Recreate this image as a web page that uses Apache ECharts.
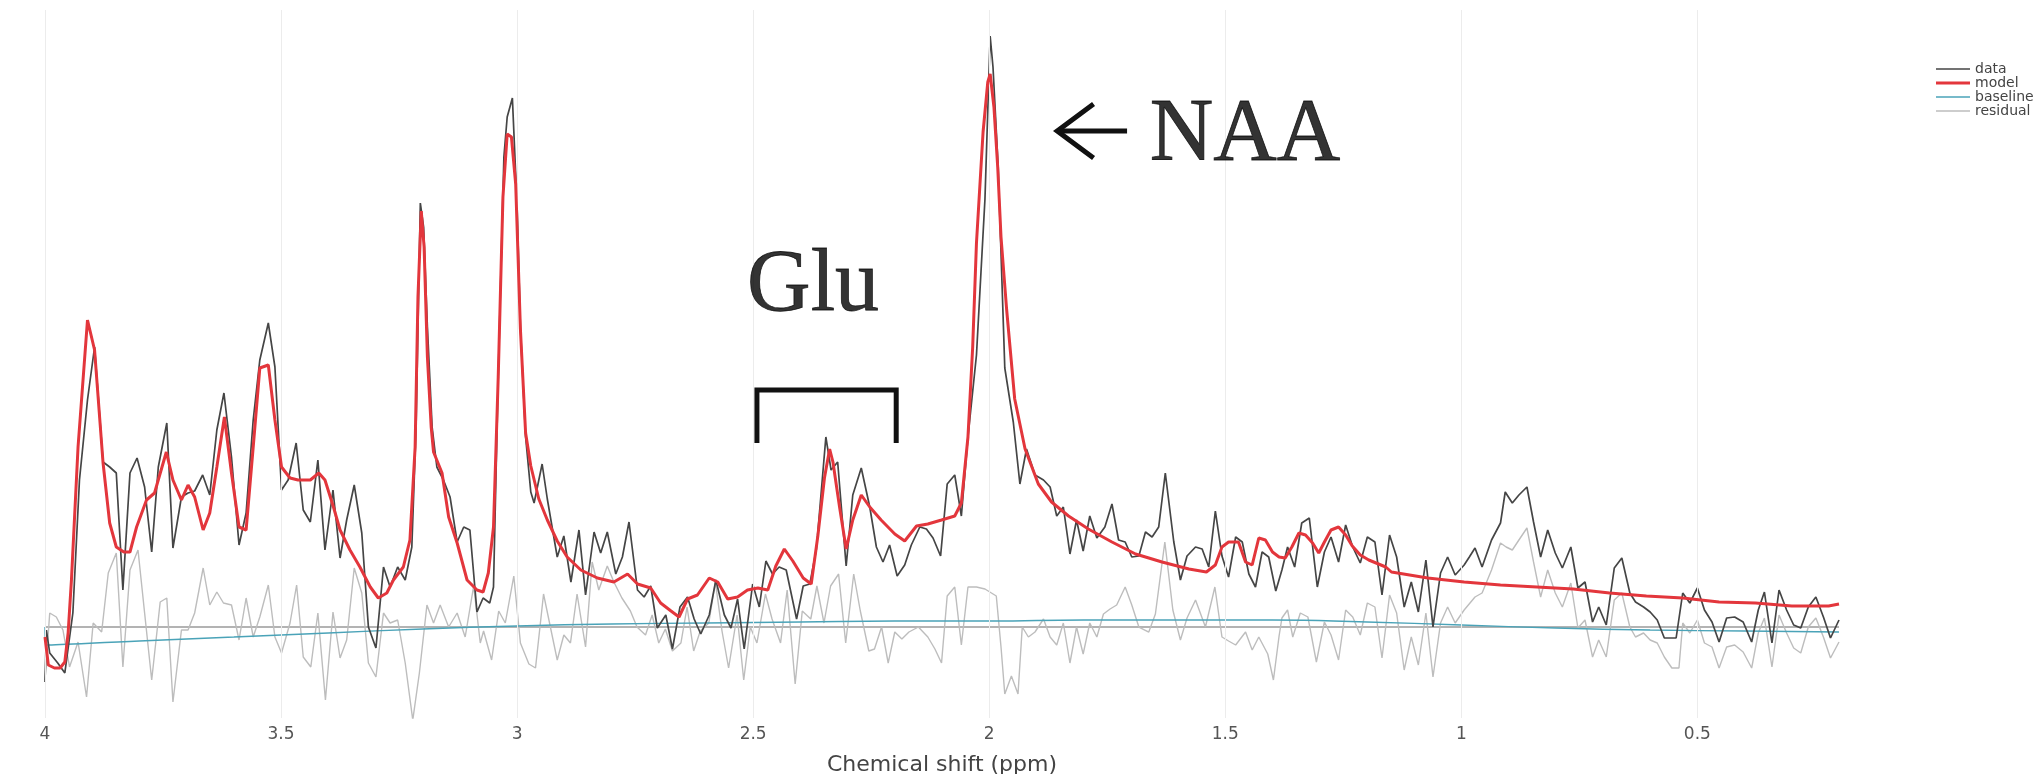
<!DOCTYPE html>
<html>
<head>
<meta charset="utf-8">
<title>MRS fit</title>
<script src="https://cdn.jsdelivr.net/npm/echarts@6.0.0/dist/echarts.min.js"></script>
<style>
  html, body { margin: 0; padding: 0; background: #fff; }
  #chart { width: 2033px; height: 774px; }
</style>
</head>
<body>
<div id="chart"></div>
<script>
// values: [ppm, intensity]
var xTicks = [4, 3.5, 3, 2.5, 2, 1.5, 1, 0.5];

var spectrumData = [
  [4.000,-55],[3.997,-3],[3.990,-26],[3.973,-36],[3.958,-46],[3.941,14],[3.927,147],[3.910,227],[3.895,280],[3.877,165],
  [3.863,160],[3.849,154],[3.835,37],[3.820,154],[3.805,169],[3.789,140],[3.774,75],[3.760,160],[3.742,204],[3.729,79],
  [3.711,130],[3.697,134],[3.683,136],[3.666,152],[3.651,132],[3.636,197],[3.621,234],[3.605,170],[3.589,82],[3.574,114],
  [3.559,207],[3.545,267],[3.527,304],[3.513,260],[3.499,137],[3.485,147],[3.468,184],[3.453,117],[3.438,105],[3.422,167],
  [3.407,77],[3.390,137],[3.375,69],[3.361,107],[3.345,142],[3.329,94],[3.315,0],[3.299,-21],[3.283,60],[3.269,40],
  [3.253,60],[3.237,47],[3.223,80],[3.214,200],[3.205,424],[3.198,400],[3.190,300],[3.180,200],[3.170,160],[3.156,147],
  [3.142,130],[3.127,85],[3.113,100],[3.100,97],[3.085,15],[3.072,29],[3.058,24],[3.050,40],[3.040,250],[3.028,470],
  [3.021,510],[3.010,529],[3.000,420],[2.993,300],[2.982,190],[2.971,135],[2.964,124],[2.947,163],[2.936,128],[2.915,70],
  [2.901,91],[2.886,45],[2.869,97],[2.855,32],[2.837,95],[2.823,74],[2.809,95],[2.791,53],[2.777,70],[2.763,105],
  [2.745,37],[2.731,30],[2.717,41],[2.703,-1],[2.685,12],[2.671,-22],[2.655,20],[2.639,30],[2.625,8],[2.611,-7],
  [2.593,12],[2.579,47],[2.561,12],[2.547,-1],[2.533,28],[2.519,-22],[2.501,43],[2.487,20],[2.473,66],[2.459,53],
  [2.445,60],[2.430,57],[2.408,8],[2.394,41],[2.380,43],[2.366,78],[2.346,190],[2.335,157],[2.321,165],[2.303,61],
  [2.289,132],[2.271,159],[2.253,120],[2.239,80],[2.225,65],[2.211,82],[2.195,51],[2.179,62],[2.165,82],[2.147,100],
  [2.133,98],[2.119,89],[2.103,71],[2.089,143],[2.073,152],[2.059,111],[2.045,190],[2.027,272],[2.009,428],[1.998,591],
  [1.992,560],[1.981,460],[1.967,259],[1.949,205],[1.935,143],[1.921,178],[1.903,152],[1.885,147],[1.871,140],[1.857,111],
  [1.843,120],[1.829,73],[1.815,107],[1.801,76],[1.787,111],[1.772,89],[1.755,100],[1.740,123],[1.726,87],[1.712,85],
  [1.698,70],[1.683,71],[1.669,95],[1.655,90],[1.641,100],[1.627,154],[1.609,85],[1.595,47],[1.581,71],[1.563,80],
  [1.549,78],[1.535,60],[1.521,116],[1.507,71],[1.493,50],[1.478,90],[1.464,85],[1.450,53],[1.436,40],[1.422,75],
  [1.408,70],[1.393,36],[1.380,57],[1.368,80],[1.353,60],[1.338,104],[1.322,109],[1.305,40],[1.290,75],[1.276,90],
  [1.260,65],[1.245,102],[1.230,80],[1.214,64],[1.199,90],[1.183,85],[1.168,32],[1.152,92],[1.137,70],[1.121,20],
  [1.106,45],[1.091,15],[1.075,67],[1.060,0],[1.044,54],[1.029,70],[1.013,52],[0.994,62],[0.983,70],[0.971,79],
  [0.956,60],[0.936,87],[0.917,104],[0.907,135],[0.892,124],[0.878,132],[0.861,140],[0.847,105],[0.832,70],[0.817,97],
  [0.801,74],[0.786,59],[0.768,80],[0.753,39],[0.738,45],[0.722,5],[0.709,20],[0.693,2],[0.676,59],[0.660,69],
  [0.643,34],[0.631,25],[0.614,20],[0.600,15],[0.585,7],[0.570,-11],[0.545,-11],[0.531,34],[0.516,24],[0.500,39],
  [0.485,17],[0.469,5],[0.454,-15],[0.438,9],[0.421,10],[0.403,5],[0.385,-15],[0.371,17],[0.358,35],[0.342,-16],
  [0.327,37],[0.311,17],[0.296,2],[0.281,-1],[0.265,20],[0.249,30],[0.233,10],[0.218,-11],[0.200,7]
];

var modelFit = [
  [4.000,-10],[3.993,-38],[3.980,-41],[3.968,-41],[3.958,-35],[3.951,-6],[3.944,47],[3.930,180],[3.910,307],[3.895,277],
  [3.877,164],[3.863,104],[3.849,80],[3.833,75],[3.820,75],[3.806,100],[3.785,127],[3.768,134],[3.743,175],[3.729,147],
  [3.711,127],[3.697,142],[3.683,130],[3.665,97],[3.651,114],[3.636,160],[3.620,210],[3.605,154],[3.589,100],[3.574,97],
  [3.559,180],[3.545,259],[3.527,262],[3.513,207],[3.499,160],[3.481,149],[3.464,147],[3.438,147],[3.420,154],[3.407,147],
  [3.389,120],[3.375,97],[3.354,77],[3.333,60],[3.311,40],[3.294,29],[3.276,34],[3.262,47],[3.241,60],[3.227,87],
  [3.216,180],[3.210,330],[3.203,416],[3.197,380],[3.190,270],[3.182,200],[3.177,175],[3.159,154],[3.145,110],[3.127,84],
  [3.106,47],[3.085,37],[3.072,35],[3.061,54],[3.050,100],[3.040,250],[3.030,430],[3.021,493],[3.012,490],[3.003,443],
  [2.993,298],[2.982,194],[2.971,161],[2.954,128],[2.936,107],[2.915,86],[2.894,70],[2.865,57],[2.830,49],[2.795,45],
  [2.766,53],[2.745,43],[2.717,39],[2.696,24],[2.674,16],[2.657,10],[2.639,28],[2.618,32],[2.593,49],[2.575,45],
  [2.554,28],[2.533,30],[2.512,37],[2.490,39],[2.469,37],[2.452,61],[2.434,78],[2.416,66],[2.394,49],[2.377,43],
  [2.363,91],[2.349,149],[2.338,178],[2.331,165],[2.317,120],[2.303,78],[2.289,107],[2.271,132],[2.253,120],[2.229,107],
  [2.200,93],[2.179,86],[2.154,101],[2.130,103],[2.101,107],[2.073,111],[2.059,124],[2.045,190],[2.035,280],[2.027,384],
  [2.013,495],[2.003,545],[1.998,553],[1.990,520],[1.982,460],[1.975,390],[1.963,317],[1.946,228],[1.924,178],[1.896,143],
  [1.868,125],[1.832,111],[1.790,98],[1.740,85],[1.690,73],[1.634,65],[1.577,58],[1.540,55],[1.521,62],[1.507,80],
  [1.493,85],[1.472,85],[1.457,65],[1.443,62],[1.429,89],[1.415,87],[1.400,75],[1.386,70],[1.373,69],[1.359,80],
  [1.344,94],[1.330,92],[1.315,84],[1.302,74],[1.290,85],[1.276,97],[1.260,100],[1.245,92],[1.231,81],[1.214,72],
  [1.196,67],[1.160,60],[1.148,55],[1.071,49],[0.994,45],[0.917,42],[0.840,40],[0.763,38],[0.686,34],[0.608,31],
  [0.531,29],[0.454,25],[0.377,24],[0.300,21],[0.222,21],[0.200,23]
];

var baselineFit = [
  [4.000,0],[3.996,-18],[3.8,-14],[3.6,-10],[3.4,-6],[3.2,-2],[3.0,1],[2.8,3],[2.6,4],[2.4,5],[2.2,6],
  [2.0,6],[1.8,7],[1.6,7],[1.4,7],[1.2,5],[1.0,2],[0.8,-1],[0.6,-3],[0.4,-4],[0.2,-5]
];

var residualFit = [
  [4.000,-53],[3.990,14],[3.976,10],[3.962,-3],[3.948,-40],[3.930,-15],[3.912,-70],[3.898,4],[3.880,-5],[3.866,54],
  [3.849,74],[3.835,-40],[3.820,57],[3.803,77],[3.789,14],[3.774,-53],[3.756,25],[3.742,29],[3.729,-75],[3.711,-3],
  [3.697,-3],[3.683,14],[3.665,59],[3.651,22],[3.636,35],[3.622,24],[3.605,22],[3.589,-13],[3.574,29],[3.559,-10],
  [3.545,10],[3.527,42],[3.513,-10],[3.499,-26],[3.481,4],[3.467,42],[3.453,-30],[3.437,-40],[3.422,14],[3.406,-73],
  [3.390,15],[3.375,-31],[3.361,-13],[3.345,59],[3.329,34],[3.315,-36],[3.299,-50],[3.283,14],[3.269,4],[3.253,7],
  [3.237,-36],[3.221,-93],[3.207,-46],[3.191,22],[3.177,4],[3.163,22],[3.145,0],[3.127,14],[3.110,-10],[3.092,41],
  [3.078,-16],[3.071,-4],[3.054,-33],[3.039,16],[3.025,4],[3.007,51],[2.993,-16],[2.975,-37],[2.961,-41],[2.944,33],
  [2.926,-8],[2.915,-33],[2.901,-8],[2.887,-16],[2.873,33],[2.855,-20],[2.841,65],[2.827,37],[2.809,61],[2.795,45],
  [2.778,29],[2.760,16],[2.746,0],[2.728,-8],[2.714,12],[2.700,-16],[2.686,-2],[2.671,-24],[2.653,-16],[2.640,20],
  [2.626,-24],[2.612,-4],[2.594,4],[2.580,45],[2.566,-4],[2.552,-41],[2.534,12],[2.520,-53],[2.506,0],[2.492,-16],
  [2.474,33],[2.460,8],[2.442,-16],[2.428,37],[2.411,-57],[2.396,16],[2.378,8],[2.365,41],[2.350,4],[2.336,41],
  [2.319,53],[2.304,-16],[2.287,53],[2.273,16],[2.255,-24],[2.243,-22],[2.228,0],[2.214,-36],[2.200,-5],[2.185,-12],
  [2.170,-5],[2.150,0],[2.130,-10],[2.115,-22],[2.101,-36],[2.089,31],[2.073,40],[2.059,-18],[2.045,40],[2.027,40],
  [2.009,38],[1.985,31],[1.975,-20],[1.967,-67],[1.953,-49],[1.939,-67],[1.930,0],[1.917,-10],[1.903,-5],[1.885,8],
  [1.871,-10],[1.857,-18],[1.843,4],[1.829,-36],[1.815,0],[1.801,-27],[1.787,4],[1.772,-10],[1.758,13],[1.744,18],
  [1.730,22],[1.712,40],[1.698,22],[1.683,0],[1.662,-5],[1.648,13],[1.628,85],[1.611,17],[1.595,-13],[1.581,9],
  [1.563,27],[1.542,0],[1.522,40],[1.507,-10],[1.493,-14],[1.478,-18],[1.457,-5],[1.443,-23],[1.429,-10],[1.410,-27],
  [1.398,-53],[1.386,-9],[1.380,9],[1.368,17],[1.357,-10],[1.341,14],[1.325,10],[1.307,-35],[1.290,5],[1.276,-8],
  [1.260,-33],[1.245,17],[1.230,10],[1.214,-8],[1.199,24],[1.183,20],[1.168,-31],[1.152,32],[1.137,14],[1.121,-43],
  [1.106,-10],[1.091,-38],[1.075,14],[1.060,-50],[1.044,4],[1.029,20],[1.013,4],[0.994,17],[0.971,30],[0.956,34],
  [0.936,57],[0.917,84],[0.905,80],[0.892,77],[0.878,87],[0.861,99],[0.847,65],[0.832,30],[0.817,57],[0.801,34],
  [0.786,20],[0.768,44],[0.753,-1],[0.738,7],[0.722,-30],[0.709,-13],[0.693,-30],[0.676,27],[0.660,34],[0.643,0],
  [0.631,-10],[0.614,-6],[0.600,-13],[0.585,-16],[0.570,-30],[0.554,-41],[0.539,-41],[0.531,4],[0.516,-6],[0.500,7],
  [0.485,-16],[0.469,-20],[0.454,-41],[0.438,-20],[0.421,-18],[0.403,-25],[0.385,-41],[0.371,-6],[0.358,9],[0.342,-40],
  [0.327,12],[0.311,-6],[0.296,-21],[0.281,-26],[0.265,0],[0.249,9],[0.233,-10],[0.218,-31],[0.200,-15]
];

var zeroLine = [[4.0, 0], [0.2, 0]];

// annotations, in data coordinates
var gluBracket = [[2.492, 184], [2.492, 237], [2.197, 237], [2.197, 184]];
var gluLabelAt = [[2.373, 340]];
var naaArrowHead = [[1.779, 523], [1.856, 496], [1.779, 469]];
var naaArrowStem = [[1.856, 496], [1.708, 496]];
var naaLabelAt = [[1.661, 491]];

var chartFont = 'DejaVu Sans';
var noteFont = '"Liberation Serif", "Times New Roman", serif';

var myChart = echarts.init(document.getElementById('chart'));

function noteLine(name, pts) {
  return {
    name: name,
    type: 'line',
    data: pts,
    symbol: 'none',
    silent: true,
    lineStyle: { color: '#111', width: 5, join: 'miter', cap: 'butt' },
    z: 6
  };
}

function noteText(name, pts, text, pos) {
  return {
    name: name,
    type: 'scatter',
    data: pts,
    symbolSize: 1,
    silent: true,
    itemStyle: { color: 'rgba(0,0,0,0)' },
    label: {
      show: true,
      position: pos,
      distance: 0,
      formatter: text,
      fontSize: 88,
      fontFamily: noteFont,
      color: '#000',
      textBorderColor: '#000',
      textBorderWidth: 0.8,
      align: pos === 'inside' ? 'center' : 'left',
      verticalAlign: 'middle'
    },
    z: 7
  };
}

var option = {
  animation: false,
  backgroundColor: '#fff',
  grid: { left: 45, right: 194, top: 10, bottom: 56, outerBoundsMode: 'none' },
  legend: {
    orient: 'vertical',
    left: 1936,
    top: 62,
    padding: 0,
    itemWidth: 34,
    itemHeight: 14,
    itemGap: 0,
    itemStyle: { borderWidth: 0 },
    textStyle: { fontSize: 14, color: '#444', fontFamily: chartFont, lineHeight: 14 },
    data: [
      { name: 'data', icon: 'path://M0,0H34V1.7H0Z' },
      { name: 'model', icon: 'path://M0,0H34V3H0Z' },
      { name: 'baseline', icon: 'path://M0,0H34V1.5H0Z' },
      { name: 'residual', icon: 'path://M0,0H34V1.5H0Z' }
    ]
  },
  xAxis: {
    type: 'value',
    min: 0.2,
    max: 4,
    inverse: true,
    axisLine: { show: false },
    axisTick: { show: false },
    splitLine: { show: false },
    axisLabel: {
      customValues: xTicks,
      fontSize: 17,
      color: '#555',
      fontFamily: chartFont,
      margin: 8
    },
    name: 'Chemical shift (ppm)',
    nameLocation: 'middle',
    nameGap: 36,
    nameTextStyle: { fontSize: 22, color: '#444', fontFamily: chartFont }
  },
  yAxis: { type: 'value', min: -91, max: 617, show: false },
  series: [
    {
      name: 'zero',
      type: 'line',
      data: zeroLine,
      symbol: 'none',
      silent: true,
      lineStyle: { color: '#9a9a9a', width: 1.5 },
      markLine: {
        silent: true,
        symbol: 'none',
        label: { show: false },
        lineStyle: { color: '#ececec', width: 1, type: 'solid' },
        data: xTicks.map(function (t) { return { xAxis: t }; })
      },
      z: 1
    },
    {
      name: 'residual',
      type: 'line',
      data: residualFit,
      symbol: 'none',
      lineStyle: { color: '#bdbdbd', width: 1.4 },
      itemStyle: { color: '#bdbdbd' },
      z: 2
    },
    {
      name: 'baseline',
      type: 'line',
      data: baselineFit,
      symbol: 'none',
      smooth: true,
      lineStyle: { color: '#4aa3b8', width: 1.4 },
      itemStyle: { color: '#4aa3b8' },
      z: 3
    },
    {
      name: 'data',
      type: 'line',
      data: spectrumData,
      symbol: 'none',
      lineStyle: { color: '#454545', width: 1.7 },
      itemStyle: { color: '#454545' },
      z: 4
    },
    {
      name: 'model',
      type: 'line',
      data: modelFit,
      symbol: 'none',
      lineStyle: { color: '#e3363c', width: 3 },
      itemStyle: { color: '#e3363c' },
      z: 5
    },
    noteLine('gluBracket', gluBracket),
    noteLine('naaArrowHead', naaArrowHead),
    noteLine('naaArrowStem', naaArrowStem),
    noteText('gluLabel', gluLabelAt, 'Glu', 'inside'),
    noteText('naaLabel', naaLabelAt, 'NAA', 'right')
  ]
};

myChart.setOption(option);
</script>
</body>
</html>
